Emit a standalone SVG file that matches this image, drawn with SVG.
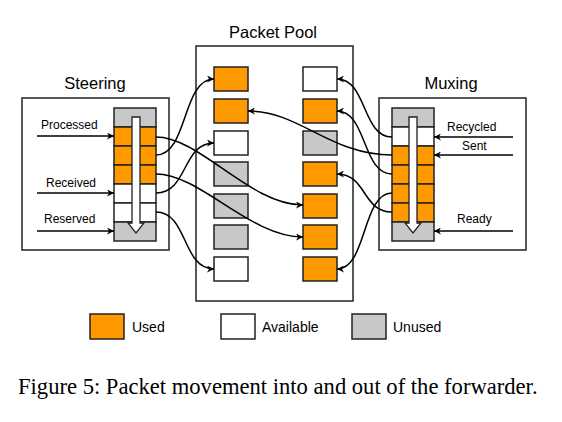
<svg xmlns="http://www.w3.org/2000/svg" width="562" height="422" viewBox="0 0 562 422">
<style>
.box{fill:#fff;stroke:#222;stroke-width:1.5}
.u{fill:#ff9900;stroke:#222;stroke-width:1.5}
.a{fill:#fff;stroke:#222;stroke-width:1.5}
.n{fill:#c8c8c8;stroke:#222;stroke-width:1.5}
.t{font-family:"Liberation Sans",Arial,sans-serif;fill:#000}
.title{font-size:16.5px;text-anchor:middle}
.lbl{font-size:12px}
.leg{font-size:14px}
.cap{font-family:"Liberation Serif","Times New Roman",serif;font-size:22.6px;fill:#000}
.c{fill:none;stroke:#000;stroke-width:1.5;marker-end:url(#ah)}
.sh{fill:#fff;stroke:#222;stroke-width:1.3}
</style>
<defs>
<marker id="ah" viewBox="0 0 10 10" refX="10" refY="5" markerWidth="8" markerHeight="7" markerUnits="userSpaceOnUse" orient="auto">
<path d="M0,0 L10,5 L0,10 L3,5 Z" fill="#000"/>
</marker>
</defs>

<g id="steering">
<rect class="box" x="22" y="98" width="147" height="152"/>
<text class="t title" x="95" y="89">Steering</text>
<rect class="n" x="114" y="108" width="42" height="19"/>
<rect class="u" x="114" y="127" width="42" height="19"/>
<rect class="u" x="114" y="146" width="42" height="19"/>
<rect class="u" x="114" y="165" width="42" height="19"/>
<rect class="a" x="114" y="184" width="42" height="19"/>
<rect class="a" x="114" y="203" width="42" height="19"/>
<rect class="n" x="114" y="222" width="42" height="19"/>
<path class="sh" d="M132,117 H140 V223 H144 L136,233 L128,223 H132 Z"/>
<text class="t lbl" x="41" y="129">Processed</text>
<text class="t lbl" x="46" y="187">Received</text>
<text class="t lbl" x="44" y="223">Reserved</text>
</g>

<g id="pool">
<rect class="box" x="196" y="46" width="157" height="255"/>
<text class="t title" x="273" y="38">Packet Pool</text>
<rect class="u" x="214" y="67" width="34" height="24"/>
<rect class="u" x="214" y="99" width="34" height="24"/>
<rect class="a" x="214" y="131" width="34" height="24"/>
<rect class="n" x="214" y="162" width="34" height="24"/>
<rect class="n" x="214" y="194" width="34" height="24"/>
<rect class="n" x="214" y="225" width="34" height="24"/>
<rect class="a" x="214" y="257" width="34" height="24"/>
<rect class="a" x="303" y="67" width="34" height="24"/>
<rect class="u" x="303" y="99" width="34" height="24"/>
<rect class="n" x="303" y="131" width="34" height="24"/>
<rect class="u" x="303" y="162" width="34" height="24"/>
<rect class="u" x="303" y="194" width="34" height="24"/>
<rect class="u" x="303" y="225" width="34" height="24"/>
<rect class="u" x="303" y="257" width="34" height="24"/>
</g>

<g id="muxing">
<rect class="box" x="379" y="98" width="147" height="152"/>
<text class="t title" x="451" y="89">Muxing</text>
<rect class="n" x="392" y="108" width="42" height="19"/>
<rect class="a" x="392" y="127" width="42" height="19"/>
<rect class="u" x="392" y="146" width="42" height="19"/>
<rect class="u" x="392" y="165" width="42" height="19"/>
<rect class="u" x="392" y="184" width="42" height="19"/>
<rect class="u" x="392" y="203" width="42" height="19"/>
<rect class="n" x="392" y="222" width="42" height="19"/>
<path class="sh" d="M409,117 H417 V223 H421 L413,233 L405,223 H409 Z"/>
<text class="t lbl" x="447" y="131">Recycled</text>
<text class="t lbl" x="462" y="150">Sent</text>
<text class="t lbl" x="457" y="223">Ready</text>
</g>

<g id="connectors">
<path class="c" d="M37,136 H114"/>
<path class="c" d="M37,193 H114"/>
<path class="c" d="M37,231 H114"/>
<path class="c" d="M513,137 H434"/>
<path class="c" d="M513,155 H434"/>
<path class="c" d="M513,231 H434"/>
<path class="c" d="M156,137 C200,137 250,205 303,205"/>
<path class="c" d="M156,155 C188,155 182,79 214,79"/>
<path class="c" d="M156,174 C200,174 250,237 303,237"/>
<path class="c" d="M156,193 C188,193 182,143 214,143"/>
<path class="c" d="M156,212 C188,212 182,269 214,269"/>
<path class="c" d="M392,137 C362,137 367,79 337,79"/>
<path class="c" d="M392,155 C330,155 300,111 248,111"/>
<path class="c" d="M392,174 C362,174 367,111 337,111"/>
<path class="c" d="M392,193 C362,193 367,269 337,269"/>
<path class="c" d="M392,212 C362,212 367,174 337,174"/>
</g>

<g id="legend">
<rect class="u" x="90" y="314" width="34" height="25"/>
<text class="t leg" x="132" y="332">Used</text>
<rect class="a" x="221" y="314" width="34" height="25"/>
<text class="t leg" x="262" y="332">Available</text>
<rect class="n" x="352" y="314" width="34" height="25"/>
<text class="t leg" x="393" y="332">Unused</text>
</g>

<text class="cap" x="18" y="394">Figure 5: Packet movement into and out of the forwarder.</text>
</svg>
